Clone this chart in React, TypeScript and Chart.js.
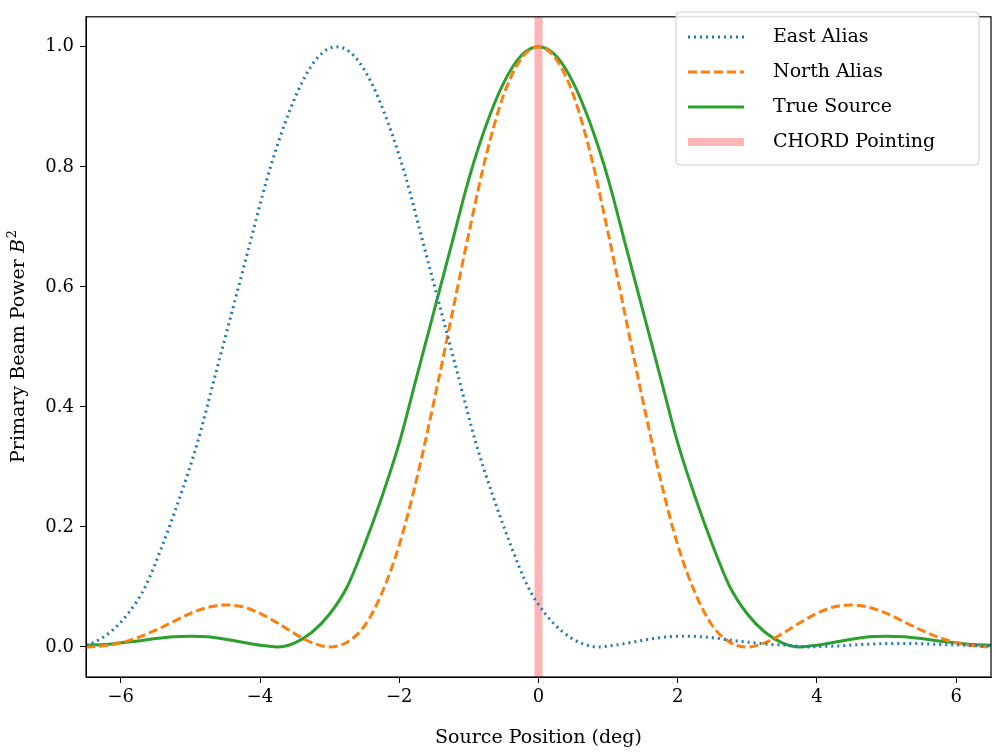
import React, { useEffect, useRef } from "react";
import { Chart, registerables } from "chart.js";
Chart.register(...registerables);

const gridX = [0,0.25,0.5,0.75,1,1.25,1.5,1.75,2,2.25,2.5,2.75,3,3.25,3.5,3.75,4,4.25,4.5,4.75,5,5.25,5.5,5.75,6,6.25,6.5];
const trueHalf = [1,0.985,0.94,0.87,0.78,0.67,0.56,0.45,0.34,0.25,0.17,0.10,0.055,0.025,0.007,0.0,0.003,0.008,0.013,0.017,0.018,0.017,0.014,0.01,0.007,0.004,0.003];
const northHalf = [1,0.98,0.92,0.82,0.69,0.55,0.41,0.28,0.17,0.09,0.035,0.008,0,0.007,0.022,0.04,0.056,0.067,0.07,0.066,0.056,0.042,0.028,0.016,0.007,0.002,0.0];
const eastX = [-6.5,-6.4,-6.15,-5.9,-5.65,-5.4,-5.15,-4.9,-4.65,-4.4,-4.15,-3.9,-3.65,-3.4,-3.15,-2.9,-2.65,-2.4,-2.15,-1.9,-1.65,-1.4,-1.15,-0.9,-0.65,-0.4,-0.15,0.1,0.35,0.6,0.85,1.1,1.35,1.6,1.85,2.1,2.35,2.6,2.85,3.1,3.35,3.6,3.85,4.1,4.35,4.6,4.85,5.1,5.35,5.6,5.85,6.1,6.35,6.5];
const eastY = [0.003,0.007,0.025,0.055,0.10,0.17,0.25,0.34,0.45,0.56,0.67,0.78,0.87,0.94,0.985,1,0.985,0.94,0.87,0.78,0.67,0.56,0.45,0.34,0.25,0.17,0.10,0.055,0.025,0.007,0.0,0.003,0.008,0.013,0.017,0.018,0.017,0.014,0.01,0.007,0.004,0.003,0.0,0.001,0.002,0.004,0.005,0.006,0.006,0.005,0.004,0.003,0.002,0.002];
const xTicks = [-6,-4,-2,0,2,4,6];

const mirror = (ys: number[]) => {
  const pts: { x: number; y: number }[] = [];
  for (let i = gridX.length - 1; i > 0; i--) pts.push({ x: -gridX[i], y: ys[i] });
  for (let i = 0; i < gridX.length; i++) pts.push({ x: gridX[i], y: ys[i] });
  return pts;
};

const BLUE = "#1f77b4", ORANGE = "#ff7f0e", GREEN = "#2ca02c", PINK = "rgba(255,120,120,0.55)";
const FONT = "'DejaVu Serif', serif";

export default function App() {
  const ref = useRef<HTMLCanvasElement>(null);
  useEffect(() => {
    document.body.style.margin = "0";
    const plugin = {
      id: "deco",
      afterDraw(c: any) {
        const ctx = c.ctx, a = c.chartArea;
        ctx.save();
        ctx.strokeStyle = "#000"; ctx.lineWidth = 1.2;
        ctx.strokeRect(a.left, a.top, a.right - a.left, a.bottom - a.top);
        ctx.fillStyle = "#000"; ctx.font = `19px ${FONT}`;
        ctx.textAlign = "center"; ctx.textBaseline = "alphabetic";
        ctx.fillText("Source Position (deg)", (a.left + a.right) / 2, 743);
        ctx.save();
        ctx.translate(24, (a.top + a.bottom) / 2);
        ctx.rotate(-Math.PI / 2);
        const t1 = "Primary Beam Power ";
        ctx.font = `19px ${FONT}`;
        const w1 = ctx.measureText(t1).width;
        ctx.font = `italic 19px ${FONT}`;
        const w2 = ctx.measureText("B").width;
        ctx.font = `13px ${FONT}`;
        const w3 = ctx.measureText("2").width;
        let x0 = -(w1 + w2 + w3) / 2;
        ctx.textAlign = "left";
        ctx.font = `19px ${FONT}`; ctx.fillText(t1, x0, 0); x0 += w1;
        ctx.font = `italic 19px ${FONT}`; ctx.fillText("B", x0, 0); x0 += w2;
        ctx.font = `13px ${FONT}`; ctx.fillText("2", x0 + 1, -8);
        ctx.restore();
        const lx = 676, ly = 12, lw = 303, lh = 153;
        ctx.fillStyle = "rgba(255,255,255,0.85)";
        ctx.strokeStyle = "#cccccc"; ctx.lineWidth = 1;
        ctx.beginPath(); (ctx as any).roundRect(lx, ly, lw, lh, 4); ctx.fill(); ctx.stroke();
        const items = [
          { t: "East Alias", c: BLUE, d: [2, 4], w: 3 },
          { t: "North Alias", c: ORANGE, d: [9, 4], w: 3 },
          { t: "True Source", c: GREEN, d: [], w: 3 },
          { t: "CHORD Pointing", c: PINK, d: [], w: 8 },
        ];
        items.forEach((it, i) => {
          const y = ly + 25 + i * 35;
          ctx.strokeStyle = it.c; ctx.lineWidth = it.w; ctx.setLineDash(it.d);
          ctx.beginPath(); ctx.moveTo(lx + 12, y); ctx.lineTo(lx + 68, y); ctx.stroke();
          ctx.setLineDash([]);
          ctx.fillStyle = "#000"; ctx.font = `19px ${FONT}`;
          ctx.textAlign = "left"; ctx.textBaseline = "middle";
          ctx.fillText(it.t, lx + 97, y);
        });
        ctx.restore();
      },
    };
    const chart = new Chart(ref.current!, {
      type: "line",
      data: {
        datasets: [
          { data: [{ x: 0, y: -0.05 }, { x: 0, y: 1.05 }], borderColor: PINK, borderWidth: 8, pointRadius: 0, order: 4 } as any,
          { data: eastX.map((x, i) => ({ x, y: eastY[i] })), borderColor: BLUE, borderWidth: 3, borderDash: [2, 4], pointRadius: 0, cubicInterpolationMode: "monotone" },
          { data: mirror(northHalf), borderColor: ORANGE, borderWidth: 3, borderDash: [9, 4], pointRadius: 0, cubicInterpolationMode: "monotone" },
          { data: mirror(trueHalf), borderColor: GREEN, borderWidth: 3, pointRadius: 0, cubicInterpolationMode: "monotone" },
        ],
      },
      options: {
        animation: false, responsive: false,
        layout: { padding: { top: -7, right: 5, left: 0, bottom: 0 } },
        plugins: { legend: { display: false }, tooltip: { enabled: false } },
        scales: {
          x: {
            type: "linear", min: -6.5, max: 6.5,
            afterBuildTicks: (s: any) => { s.ticks = xTicks.map((v) => ({ value: v })); },
            afterFit: (s: any) => { s.height = 77; },
            grid: { drawOnChartArea: false, drawTicks: true, tickLength: 6, tickColor: "#000" },
            border: { color: "#000" },
            ticks: { color: "#000", font: { family: FONT, size: 18 }, padding: 4, callback: (v: any) => (v < 0 ? "\u2212" + Math.abs(v) : String(v)) },
          },
          y: {
            min: -0.05, max: 1.05,
            afterBuildTicks: (s: any) => { s.ticks = [0, 0.2, 0.4, 0.6, 0.8, 1.0].map((v) => ({ value: v })); },
            afterFit: (s: any) => { s.width = 86; },
            grid: { drawOnChartArea: false, drawTicks: true, tickLength: 6, tickColor: "#000" },
            border: { color: "#000" },
            ticks: { color: "#000", font: { family: FONT, size: 18 }, padding: 6, callback: (v: any) => Number(v).toFixed(1) },
          },
        },
      },
      plugins: [plugin],
    } as any);
    return () => chart.destroy();
  }, []);
  return <canvas ref={ref} width={996} height={754} style={{ display: "block" }} />;
}
